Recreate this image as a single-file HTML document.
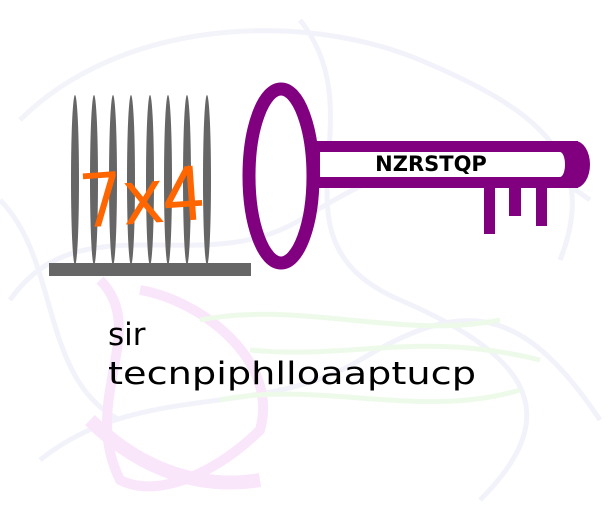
<!DOCTYPE html>
<html><head><meta charset="utf-8"><style>
html,body{margin:0;padding:0;background:#fff;width:607px;height:509px;overflow:hidden}
svg{display:block}
</style></head><body>
<svg width="607" height="509" viewBox="0 0 607 509">
<g fill="none" stroke-width="5" opacity="0.45">
<path d="M20 120 C120 20 300 10 420 60 S600 160 560 260" stroke="#e4e4f4"/>
<path d="M10 300 C80 200 200 280 300 220 S480 120 590 200" stroke="#e4e4f4"/>
<path d="M40 460 C140 380 260 420 360 360 S520 300 600 420" stroke="#e4e4f4"/>
<path d="M300 20 C380 120 260 240 400 300 S560 420 480 500" stroke="#e4e4f4"/>
<path d="M0 200 C60 260 40 380 120 420" stroke="#e4e4f4"/>
<path d="M100 280 C150 330 80 400 120 480 C160 500 220 470 260 430 C280 360 200 300 140 290" stroke="#f4c8f4" stroke-width="10"/>
<path d="M90 420 C140 470 200 490 260 480" stroke="#f4c8f4" stroke-width="14"/>
<path d="M200 320 C300 300 400 340 500 320 M220 400 C320 380 420 420 520 390 M250 350 C350 360 420 330 540 360" stroke="#d8f4d0" stroke-width="5"/>
</g>
<g fill="#666">
<rect x="49" y="263" width="202" height="13"/>
<ellipse cx="75" cy="180" rx="4" ry="85"/>
<ellipse cx="94" cy="180" rx="4" ry="85"/>
<ellipse cx="113" cy="180" rx="4" ry="85"/>
<ellipse cx="131" cy="180" rx="4" ry="85"/>
<ellipse cx="150" cy="180" rx="4" ry="85"/>
<ellipse cx="168" cy="180" rx="4" ry="85"/>
<ellipse cx="187" cy="180" rx="4" ry="85"/>
<ellipse cx="207" cy="180" rx="4" ry="85"/>
</g>
<text x="80" y="222" font-family="'DejaVu Sans', sans-serif" font-size="70" font-weight="200" fill="#ff6600" stroke="#ff6600" stroke-width="3" textLength="125" lengthAdjust="spacingAndGlyphs" transform="rotate(-4 140 190)">7x4</text>
<g fill="#800080">
<ellipse cx="281" cy="176" rx="32" ry="87" fill="none" stroke="#800080" stroke-width="13"/>
<rect x="316" y="141" width="262" height="47"/>
<ellipse cx="575" cy="164.5" rx="15" ry="23.5"/>
<rect x="320" y="152" width="240" height="25" fill="#fff"/>
<ellipse cx="560" cy="164.5" rx="5" ry="12.5" fill="#fff"/>
<rect x="484" y="186" width="11" height="48"/>
<rect x="509" y="186" width="12" height="30"/>
<rect x="536" y="186" width="11" height="40"/>
</g>
<text x="431" y="171" text-anchor="middle" font-family="'DejaVu Sans','Liberation Sans',sans-serif" font-weight="bold" font-size="21" fill="#000">NZRSTQP</text>
<text x="108" y="345" font-family="'DejaVu Sans','Liberation Sans',sans-serif" font-size="31" fill="#000">sir</text>
<text x="108" y="384" font-family="'DejaVu Sans','Liberation Sans',sans-serif" font-size="31" fill="#000" textLength="368" lengthAdjust="spacingAndGlyphs">tecnpiphlloaaptucp</text>
</svg>
</body></html>
